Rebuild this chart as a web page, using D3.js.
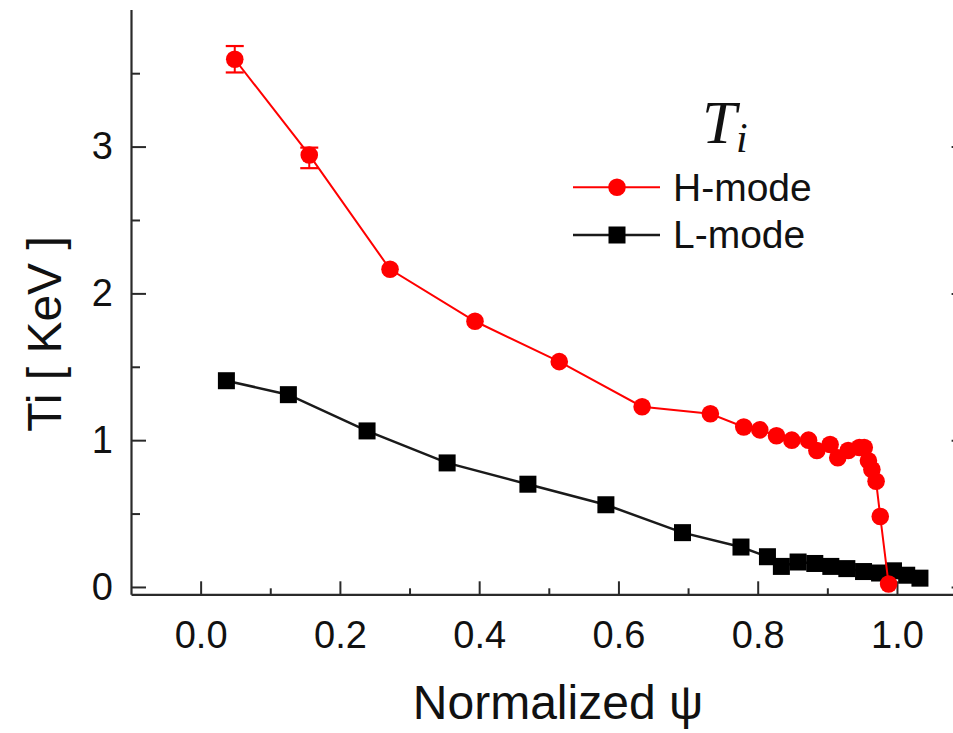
<!DOCTYPE html>
<html>
<head>
<meta charset="utf-8">
<script src="https://cdn.jsdelivr.net/npm/d3@7"></script>
<style>
  html, body { margin: 0; padding: 0; background: #fff; }
  svg { display: block; }
  text { font-family: "Liberation Sans", Arial, sans-serif; fill: #111; }
</style>
</head>
<body>
<div id="chart"></div>
<script>
// ---- data ----
const hX   = [0.049, 0.156, 0.272, 0.394, 0.515, 0.634, 0.732, 0.780, 0.803, 0.827, 0.849, 0.873, 0.885, 0.904, 0.915, 0.930, 0.946, 0.953, 0.959, 0.964, 0.970, 0.976, 0.988];
const hY   = [3.595, 2.943, 2.164, 1.81, 1.535, 1.228, 1.18, 1.09, 1.07, 1.03, 1.00, 1.00, 0.93, 0.97, 0.88, 0.93, 0.95, 0.95, 0.86, 0.80, 0.72, 0.48, 0.02];
const hErrUp   = [0.09, 0.05];
const hErrDown = [0.09, 0.09];
const lX   = [0.037, 0.126, 0.239, 0.354, 0.470, 0.582, 0.692, 0.776, 0.814, 0.834, 0.858, 0.882, 0.905, 0.928, 0.952, 0.975, 0.995, 1.014, 1.033];
const lY   = [1.405, 1.31, 1.063, 0.845, 0.70, 0.56, 0.37, 0.272, 0.206, 0.140, 0.170, 0.160, 0.140, 0.125, 0.105, 0.095, 0.110, 0.080, 0.060];
const xTicks = [0.0, 0.2, 0.4, 0.6, 0.8, 1.0];
const xMinor = [0.1, 0.3, 0.5, 0.7, 0.9];
const yTicks = [0, 1, 2, 3];
const yMinor = [0.5, 1.5, 2.5, 3.5];
const seriesNames = ["H-mode", "L-mode"];
const xTitle = "Normalized ψ";
const yTitle = "Ti [ KeV ]";

// ---- layout ----
const W = 953, H = 733;
const svg = d3.select("#chart").append("svg").attr("width", W).attr("height", H);

const x = d3.scaleLinear().domain([-0.1, 1.1]).range([131, 966.6]);
const y = d3.scaleLinear().domain([-0.05, 4]).range([594.3, -0.2]);

svg.append("defs").append("clipPath").attr("id", "clip")
  .append("rect").attr("x", 0).attr("y", 10).attr("width", W).attr("height", H - 10);

const g = svg.append("g").attr("clip-path", "url(#clip)");

const axisColor = "#2a2a2a";
function styleAxis(sel) {
  sel.selectAll("path.domain").attr("stroke", axisColor).attr("stroke-width", 2.2);
  sel.selectAll(".tick line").attr("stroke", axisColor).attr("stroke-width", 2);
}

// bottom axis (ticks inward)
const gx = g.append("g").attr("transform", `translate(0,${y(-0.05)})`)
  .call(d3.axisBottom(x).tickValues(xTicks).tickSizeInner(-13).tickSizeOuter(0).tickPadding(27)
        .tickFormat(d3.format(".1f")));
styleAxis(gx);
gx.selectAll("text").attr("font-size", 38).attr("fill", "#111").attr("dy", "0.71em");
g.append("g").attr("transform", `translate(0,${y(-0.05)})`)
  .call(d3.axisBottom(x).tickValues(xMinor).tickSizeInner(-6).tickSizeOuter(0).tickFormat(""))
  .call(s => { s.select("path.domain").remove(); styleAxis(s); });

// left axis (ticks inward)
const gy = g.append("g").attr("transform", `translate(${x(-0.1)},0)`)
  .call(d3.axisLeft(y).tickValues(yTicks).tickSizeInner(-15).tickSizeOuter(0).tickPadding(18)
        .tickFormat(d3.format("d")));
styleAxis(gy);
gy.selectAll("text").attr("font-size", 38).attr("fill", "#111");
g.append("g").attr("transform", `translate(${x(-0.1)},0)`)
  .call(d3.axisLeft(y).tickValues(yMinor).tickSizeInner(-9).tickSizeOuter(0).tickFormat(""))
  .call(s => { s.select("path.domain").remove(); styleAxis(s); });

// right axis (mostly outside the view)
const gr = g.append("g").attr("transform", `translate(${x(1.1)},0)`)
  .call(d3.axisRight(y).tickValues(yTicks).tickSizeInner(-15).tickSizeOuter(0).tickFormat(""));
styleAxis(gr);

// ---- series ----
const lData = lX.map((d, i) => [d, lY[i]]);
const hData = hX.map((d, i) => [d, hY[i]]);
const line = d3.line().x(d => x(d[0])).y(d => y(d[1]));

g.append("path").datum(lData).attr("d", line)
  .attr("fill", "none").attr("stroke", "#1a1a1a").attr("stroke-width", 2.5);
g.selectAll("rect.lm").data(lData).join("rect").attr("class", "lm")
  .attr("x", d => x(d[0]) - 8.5).attr("y", d => y(d[1]) - 8.5)
  .attr("width", 17).attr("height", 17).attr("fill", "#000");

g.append("path").datum(hData).attr("d", line)
  .attr("fill", "none").attr("stroke", "#ff0000").attr("stroke-width", 2);
// error bars
hErrUp.forEach((e, i) => {
  const cx = x(hX[i]);
  const y1 = y(hY[i] + e), y2 = y(hY[i] - hErrDown[i]);
  g.append("line").attr("x1", cx).attr("x2", cx).attr("y1", y1).attr("y2", y2)
    .attr("stroke", "#ff0000").attr("stroke-width", 2);
  [y1, y2].forEach(yy => g.append("line").attr("x1", cx - 9).attr("x2", cx + 9)
    .attr("y1", yy).attr("y2", yy).attr("stroke", "#ff0000").attr("stroke-width", 2.2));
});
g.selectAll("circle.hm").data(hData).join("circle").attr("class", "hm")
  .attr("cx", d => x(d[0])).attr("cy", d => y(d[1])).attr("r", 8.8).attr("fill", "#ff0000");

// ---- axis titles ----
svg.append("text").attr("x", 558).attr("y", 719).attr("text-anchor", "middle")
  .attr("font-size", 48).text(xTitle);
svg.append("text").attr("transform", "translate(61,334) rotate(-90)").attr("text-anchor", "middle")
  .attr("font-size", 48).text(yTitle);

// ---- legend ----
const leg = svg.append("g");
leg.append("text").attr("x", 702).attr("y", 142.7)
  .style("font-family", '"Liberation Serif", "Times New Roman", serif').style("font-style", "italic")
  .attr("font-size", 62).text("T");
leg.append("text").attr("x", 736).attr("y", 151.7)
  .style("font-family", '"Liberation Serif", "Times New Roman", serif').style("font-style", "italic")
  .attr("font-size", 42).text("i");

const legRows = [
  {name: seriesNames[0], color: "#ff0000", ly: 187.3, ty: 200.7, shape: "circle", w: 2},
  {name: seriesNames[1], color: "#1a1a1a", ly: 235, ty: 248.3, shape: "square", w: 2.5}
];
legRows.forEach(r => {
  leg.append("line").attr("x1", 573).attr("x2", 660).attr("y1", r.ly).attr("y2", r.ly)
    .attr("stroke", r.color).attr("stroke-width", r.w);
  if (r.shape === "circle") {
    leg.append("circle").attr("cx", 617).attr("cy", r.ly).attr("r", 8.8).attr("fill", r.color);
  } else {
    leg.append("rect").attr("x", 617 - 8.5).attr("y", r.ly - 8.5).attr("width", 17).attr("height", 17).attr("fill", "#000");
  }
  leg.append("text").attr("x", 673).attr("y", r.ty).attr("font-size", 39).text(r.name);
});
</script>
</body>
</html>
